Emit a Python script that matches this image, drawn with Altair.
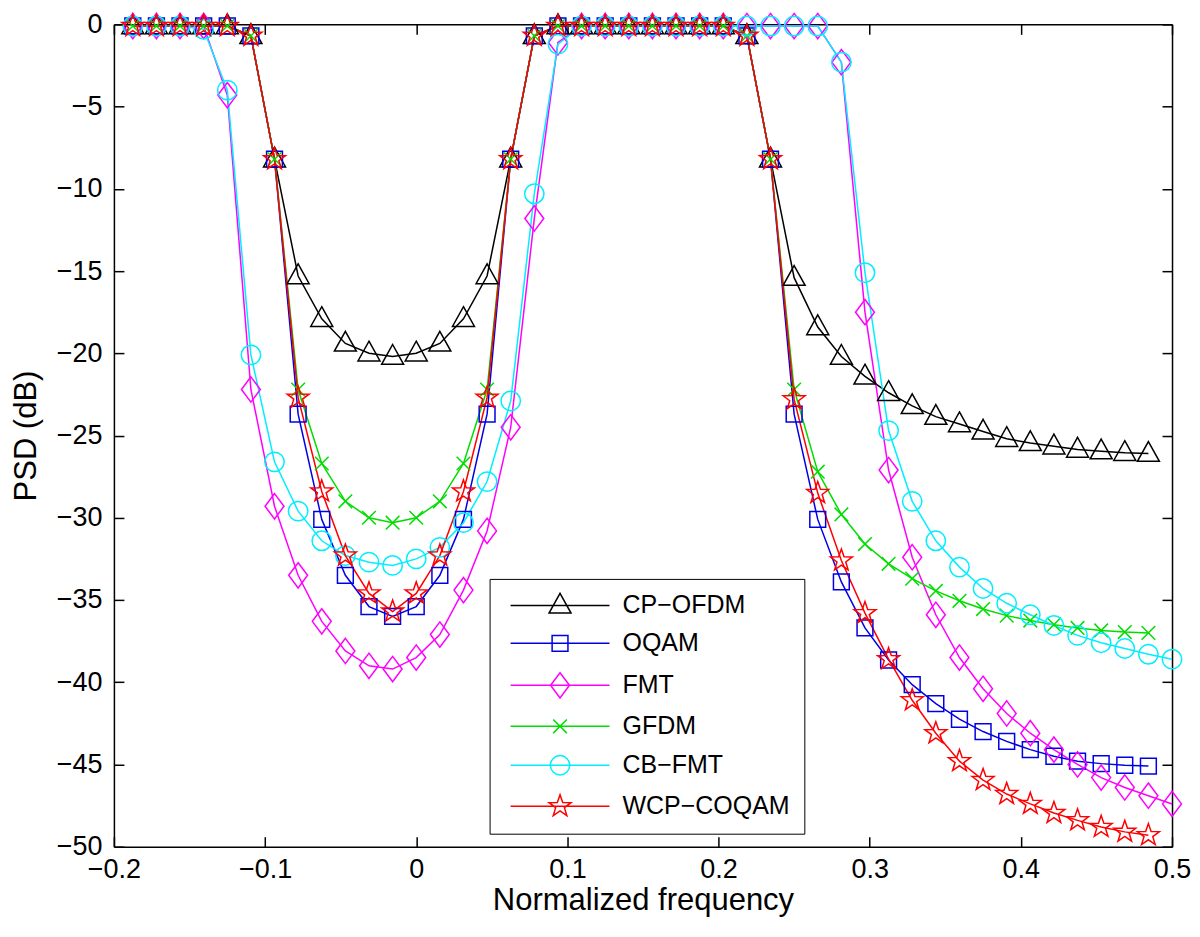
import math
import altair as alt
import pandas as pd

# ---------------- data ----------------
freq = [-0.1875, -0.171875, -0.15625, -0.140625, -0.125, -0.109375, -0.09375,
        -0.078125, -0.0625, -0.046875, -0.03125, -0.015625, 0.0, 0.015625,
        0.03125, 0.046875, 0.0625, 0.078125, 0.09375, 0.109375, 0.125,
        0.140625, 0.15625, 0.171875, 0.1875, 0.203125, 0.21875, 0.234375,
        0.25, 0.265625, 0.28125, 0.296875, 0.3125, 0.328125, 0.34375,
        0.359375, 0.375, 0.390625, 0.40625, 0.421875, 0.4375, 0.453125,
        0.46875, 0.484375, 0.5]

cp_ofdm = [-0.1, -0.1, -0.1, -0.1, -0.1, -0.7, -8.2,
           -15.3, -17.9, -19.4, -20.0, -20.2, -20.0, -19.4, -17.9, -15.3,
           -8.2, -0.7, -0.1, -0.1, -0.1, -0.1, -0.1, -0.1, -0.1, -0.1,
           -0.7, -8.2, -15.4, -18.4, -20.2, -21.4, -22.4, -23.2, -23.85,
           -24.3, -24.75, -25.2, -25.45, -25.65, -25.85, -25.95, -26.05, -26.1]

oqam = [-0.1, -0.1, -0.1, -0.1, -0.1, -0.7, -8.2,
        -23.7, -30.1, -33.5, -35.4, -36.0, -35.4, -33.5, -30.1, -23.7,
        -8.2, -0.7, -0.1, -0.1, -0.1, -0.1, -0.1, -0.1, -0.1, -0.1,
        -0.7, -8.2, -23.7, -30.1, -33.9, -36.7, -38.65, -40.15, -41.3,
        -42.25, -43.0, -43.6, -44.1, -44.5, -44.8, -44.95, -45.05, -45.1]

fmt = [-0.1, -0.1, -0.1, -0.1, -4.3, -22.2, -29.3,
       -33.5, -36.3, -38.1, -39.0, -39.2, -38.5, -37.1, -34.4, -30.8,
       -24.5, -11.8, -1.1, -0.1, -0.1, -0.1, -0.1, -0.1, -0.1, -0.1,
       -0.1, -0.1, -0.1, -0.1, -2.3, -17.5, -27.1, -32.4, -35.9,
       -38.5, -40.4, -41.9, -43.1, -44.1, -45.0, -45.8, -46.4, -46.9, -47.4]

gfdm = [-0.1, -0.1, -0.1, -0.1, -0.1, -0.7, -8.2,
        -22.2, -26.7, -29.0, -30.0, -30.3, -30.0, -29.0, -26.7, -22.2,
        -8.2, -0.7, -0.1, -0.1, -0.1, -0.1, -0.1, -0.1, -0.1, -0.1,
        -0.7, -8.2, -22.2, -27.2, -29.8, -31.6, -32.8, -33.7, -34.45,
        -35.05, -35.55, -35.95, -36.25, -36.5, -36.7, -36.85, -36.95, -37.0]

cb_fmt = [-0.1, -0.1, -0.1, -0.3, -4.0, -20.1, -26.6,
          -29.6, -31.4, -32.3, -32.7, -32.9, -32.5, -31.8, -30.3, -27.8,
          -22.9, -10.3, -1.2, -0.1, -0.1, -0.1, -0.1, -0.1, -0.1, -0.1,
          -0.1, -0.1, -0.1, -0.1, -2.3, -15.1, -24.7, -29.0, -31.4,
          -33.0, -34.3, -35.2, -35.9, -36.55, -37.15, -37.6, -37.95, -38.3, -38.6]

wcp_coqam = [-0.1, -0.1, -0.1, -0.1, -0.1, -0.7, -8.2,
             -22.7, -28.4, -32.3, -34.6, -35.7, -34.6, -32.3, -28.4, -22.7,
             -8.2, -0.7, -0.1, -0.1, -0.1, -0.1, -0.1, -0.1, -0.1, -0.1,
             -0.7, -8.2, -22.8, -28.5, -32.6, -35.8, -38.6, -41.1, -43.1,
             -44.8, -45.95, -46.8, -47.4, -47.95, -48.4, -48.8, -49.1, -49.3]

names = ["CP-OFDM", "OQAM", "FMT", "GFDM", "CB-FMT", "WCP-COQAM"]
colors = ["#000000", "#0000e6", "#ff00ff", "#00dd00", "#00eeff", "#ff0000"]

x_ticks = [-0.2, -0.1, 0, 0.1, 0.2, 0.3, 0.4, 0.5]
y_ticks = [-50, -45, -40, -35, -30, -25, -20, -15, -10, -5, 0]

# ---------------- table ----------------
rows = []
for name, vals in zip(names, [cp_ofdm, oqam, fmt, gfdm, cb_fmt, wcp_coqam]):
    for f, v in zip(freq, vals):
        rows.append({"series": name, "freq": f, "psd": v})
df = pd.DataFrame(rows)

# ---------------- marker glyphs (unit box, scaled by symbol size) ----------------
def star_path(r_out, r_in):
    pts = []
    for i in range(10):
        a = math.radians(-90 + 36 * i)
        r = r_out if i % 2 == 0 else r_in
        pts.append(f"{r * math.cos(a):.3f},{r * math.sin(a):.3f}")
    return "M" + "L".join(pts) + "Z"

TRI = "M0,-1.1L1,0.7L-1,0.7Z"
SQ = "M-0.72,-0.72L0.72,-0.72L0.72,0.72L-0.72,0.72Z"
DIA = "M0,-1.15L0.86,0L0,1.15L-0.86,0Z"
XM = "M-0.62,-0.62L0.62,0.62M-0.62,0.62L0.62,-0.62"
CIR = "M0.88,0A0.88,0.88,0,1,1,-0.88,0A0.88,0.88,0,1,1,0.88,0Z"
STAR = star_path(1.05, 0.42)
markers = [TRI, SQ, DIA, XM, CIR, STAR]
legend_markers = ["M-4.5,0L4.5,0" + m for m in markers]

FONT = "Liberation Sans"
x_scale = alt.Scale(domain=[-0.2, 0.5], nice=False, zero=False)
y_scale = alt.Scale(domain=[-50, 0], nice=False, zero=False)
color_scale = alt.Scale(domain=names, range=colors)
inward = {"expr": "-10"}

bottom_axis = alt.Axis(orient="bottom", values=x_ticks, format="~g",
                       title="Normalized frequency", tickSize=inward,
                       labelPadding=20, titlePadding=3)
left_axis = alt.Axis(orient="left", values=y_ticks, format="~g",
                     title="PSD (dB)", tickSize=inward,
                     labelPadding=22, titlePadding=14)
top_axis = alt.Axis(orient="top", values=x_ticks, labels=False, title=None,
                    tickSize=inward)
right_axis = alt.Axis(orient="right", values=y_ticks, labels=False, title=None,
                      tickSize=inward)

lines = alt.Chart(df).mark_line(strokeWidth=1.5).encode(
    x=alt.X("freq:Q", scale=x_scale, axis=bottom_axis),
    y=alt.Y("psd:Q", scale=y_scale, axis=left_axis),
    color=alt.Color("series:N", scale=color_scale, legend=None),
    detail="series:N",
)

points = alt.Chart(df).mark_point(filled=False, strokeWidth=1.5, size=484,
                                  opacity=1).encode(
    x=alt.X("freq:Q", scale=x_scale, axis=top_axis),
    y=alt.Y("psd:Q", scale=y_scale, axis=right_axis),
    color=alt.Color("series:N", scale=color_scale, legend=None),
    shape=alt.Shape("series:N", scale=alt.Scale(domain=names, range=markers),
                    legend=None),
)

leg_kwargs = dict(
    title=None, orient="none", legendX=376, legendY=555, direction="vertical",
    fillColor="white", strokeColor="black", padding=14, cornerRadius=0,
    symbolSize=484, symbolStrokeWidth=1.5, symbolOffset=44, labelOffset=50,
    rowPadding=12, labelFontSize=25, labelFont=FONT, labelColor="black",
    labelLimit=0, symbolOpacity=1,
    labelExpr="replace(datum.label, '-', '\u2212')",
)

legend_layer = alt.Chart(df).transform_filter("false").mark_point(
    filled=False, strokeWidth=1.5, size=484).encode(
    color=alt.Color("series:N", scale=color_scale, legend=alt.Legend(**leg_kwargs)),
    shape=alt.Shape("series:N", scale=alt.Scale(domain=names, range=legend_markers),
                    legend=alt.Legend(**leg_kwargs)),
)

chart = alt.layer(lines, points, legend_layer).resolve_scale(
    color="independent", shape="independent"
).resolve_axis(
    x="independent", y="independent"
).properties(
    width=1059, height=823,
    autosize=alt.AutoSizeParams(type="none"),
    padding={"left": 106, "top": 16, "right": 20, "bottom": 80},
).configure(font=FONT).configure_view(stroke=None).configure_axis(
    labelFontSize=27, titleFontSize=31, labelColor="black", titleColor="black",
    titleFontWeight="normal", domainColor="black", tickColor="black",
    domainWidth=1.5, tickWidth=1.5, grid=False, labelFlush=False,
    labelOverlap=False, labelFont=FONT, titleFont=FONT,
)

chart.save("out.html", embed_options={"renderer": "svg", "actions": False})
